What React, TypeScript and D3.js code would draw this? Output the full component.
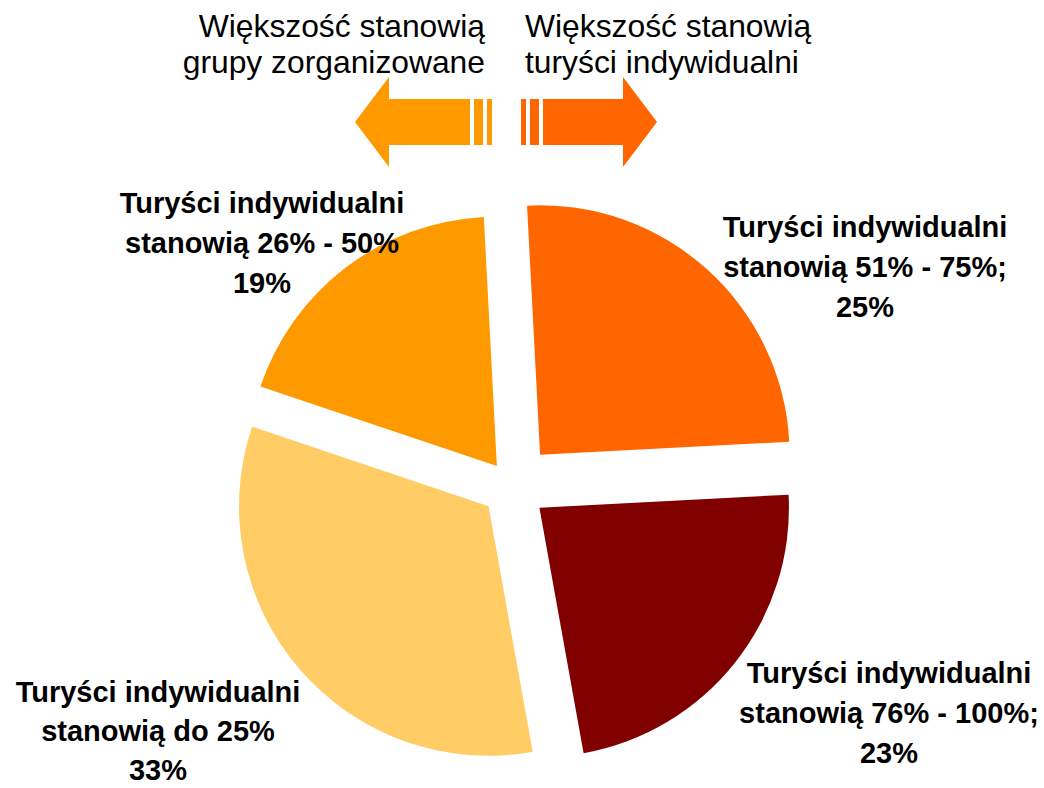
import * as React from "react";
import * as d3 from "d3";

// slices in drawing order (clockwise from the top)
const categories = [
  "Turyści indywidualni stanowią 51% - 75%",
  "Turyści indywidualni stanowią 76% - 100%",
  "Turyści indywidualni stanowią do 25%",
  "Turyści indywidualni stanowią 26% - 50%",
];
const shares = [25, 23, 33, 19];
const sliceColors = ["#FF6600", "#800000", "#FFCC66", "#FF9900"];

// label text as shown, line by line
const labelLines = [
  ["Turyści indywidualni", "stanowią 51% - 75%;", "25%"],
  ["Turyści indywidualni", "stanowią 76% - 100%;", "23%"],
  ["Turyści indywidualni", "stanowią do 25%", "33%"],
  ["Turyści indywidualni", "stanowią 26% - 50%", "19%"],
];
const headerLeft = ["Większość stanowią", "grupy zorganizowane"];
const headerRight = ["Większość stanowią", "turyści indywidualni"];

// layout
const width = 1044;
const height = 788;
const cx = 512;
const cy = 486;
const radius = 249.5;
const explode = [42, 35, 31, 25];
const labelPos = [
  [865, 237],
  [889, 683],
  [158, 702],
  [262, 213],
];
const labelGap = [40, 40, 39, 40];
const font = "Arial, 'Liberation Sans', sans-serif";

function drawChart(svgEl: SVGSVGElement) {
  const svg = d3.select(svgEl);
  svg.selectAll("*").remove();

  const pie = d3
    .pie<number>()
    .sort(null)
    .startAngle((-3 * Math.PI) / 180)
    .endAngle((357 * Math.PI) / 180);
  const arcs = pie(shares);

  const arc = d3.arc<d3.PieArcDatum<number>>().innerRadius(0).outerRadius(radius);

  const g = svg.append("g").attr("transform", `translate(${cx},${cy})`);

  g.selectAll("path.slice")
    .data(arcs)
    .enter()
    .append("path")
    .attr("class", "slice")
    .attr("d", arc)
    .attr("fill", (_d, i) => sliceColors[i])
    .attr("transform", (d, i) => {
      const mid = (d.startAngle + d.endAngle) / 2;
      const dx = Math.sin(mid) * explode[i];
      const dy = -Math.cos(mid) * explode[i];
      return `translate(${dx},${dy})`;
    })
    .append("title")
    .text((_d, i) => `${categories[i]}: ${shares[i]}%`);

  // slice labels
  const labels = svg
    .selectAll("text.label")
    .data(labelLines)
    .enter()
    .append("text")
    .attr("class", "label")
    .attr("x", (_d, i) => labelPos[i][0])
    .attr("y", (_d, i) => labelPos[i][1])
    .attr("text-anchor", "middle")
    .attr("font-family", font)
    .attr("font-weight", "bold")
    .attr("font-size", 29)
    .attr("fill", "#000");

  labels
    .selectAll("tspan")
    .data((d, i) => d.map((t) => ({ t, i })))
    .enter()
    .append("tspan")
    .attr("x", (d) => labelPos[d.i][0])
    .attr("dy", (d, j) => (j === 0 ? 0 : labelGap[d.i]))
    .text((d) => d.t);

  // header texts
  const header = (lines: string[], x: number, anchor: string) => {
    const t = svg
      .append("text")
      .attr("x", x)
      .attr("y", 37)
      .attr("text-anchor", anchor)
      .attr("font-family", font)
      .attr("font-size", 31.8)
      .attr("fill", "#000");
    lines.forEach((l, j) => {
      t.append("tspan").attr("x", x).attr("dy", j === 0 ? 0 : 36).text(l);
    });
  };
  header(headerLeft, 485, "end");
  header(headerRight, 525, "start");

  // arrows
  const ay = 122;
  svg
    .append("path")
    .attr(
      "d",
      `M355,${ay} L389,77 L389,99 L470,99 L470,145 L389,145 L389,167 Z`
    )
    .attr("fill", "#FF9900");
  svg.append("rect").attr("x", 474).attr("y", 99).attr("width", 9).attr("height", 46).attr("fill", "#FF9900");
  svg.append("rect").attr("x", 487).attr("y", 99).attr("width", 5).attr("height", 46).attr("fill", "#FF9900");

  svg
    .append("path")
    .attr(
      "d",
      `M657,${ay} L623,77 L623,99 L543,99 L543,145 L623,145 L623,167 Z`
    )
    .attr("fill", "#FF6600");
  svg.append("rect").attr("x", 530).attr("y", 99).attr("width", 9).attr("height", 46).attr("fill", "#FF6600");
  svg.append("rect").attr("x", 521).attr("y", 99).attr("width", 5).attr("height", 46).attr("fill", "#FF6600");
}

const App = () => {
  const ref = React.useRef<SVGSVGElement>(null);
  React.useEffect(() => {
    if (ref.current) drawChart(ref.current);
  }, []);

  return (
    <svg
      ref={ref}
      width={width}
      height={height}
      style={{ position: "absolute", left: 0, top: 0, background: "#fff" }}
    />
  );
};

export default App;
